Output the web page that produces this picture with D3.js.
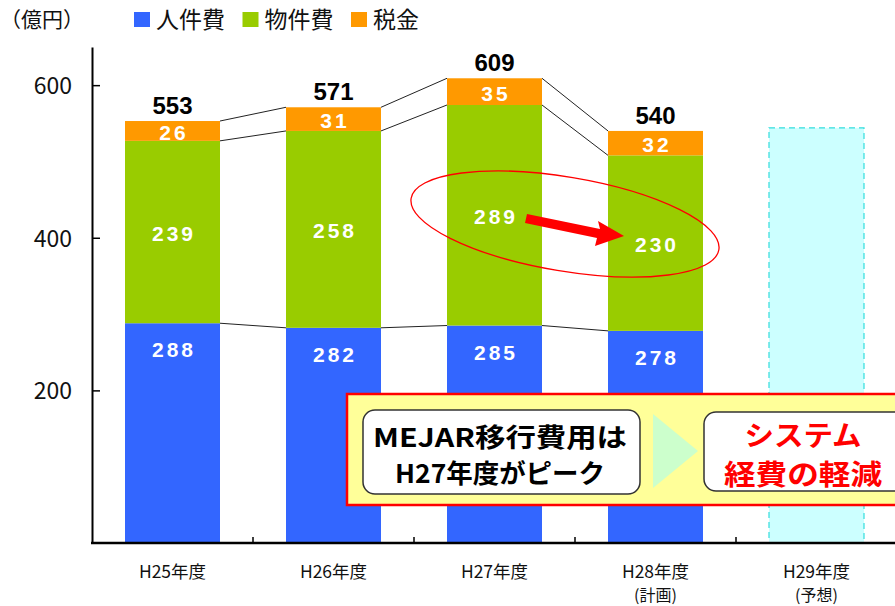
<!DOCTYPE html>
<html>
<head>
<meta charset="utf-8">
<script src="https://cdn.jsdelivr.net/npm/d3@7"></script>
<style>
  body { margin: 0; background: #fff; }
  text { font-family: "Noto Sans CJK JP", sans-serif; }
  .num { font-family: "Liberation Sans", Arial, sans-serif; }
</style>
</head>
<body>
<div id="chart"></div>
<script>
// data (億円)
var years = ["H25年度", "H26年度", "H27年度", "H28年度", "H29年度"];
var subLabels = ["", "", "", "(計画)", "(予想)"];
var seriesNames = ["人件費", "物件費", "税金"];
var personnel = [288, 282, 285, 278];
var material = [239, 258, 289, 230];
var tax = [26, 31, 35, 32];
var totals = [553, 571, 609, 540];
var forecast = [544];   // H29, outline only
var yTicks = [200, 400, 600];

var colors = ["#3366ff", "#99cc00", "#ff9900"];

var W = 895, H = 606;
var svg = d3.select("#chart").append("svg").attr("width", W).attr("height", H);

var rows = personnel.map(function(d, i) {
  return {year: years[i], p: d, m: material[i], t: tax[i]};
});
var stack = d3.stack().keys(["p", "m", "t"])(rows);

var x = d3.scaleBand().domain(years).range([92, 897]).paddingInner(0.41).paddingOuter(0.205);
var y = d3.scaleLinear().domain([0, 650]).range([543, 47]);

// forecast bar (H29)
svg.selectAll(".fc").data(forecast).enter().append("rect")
  .attr("x", x("H29年度")).attr("width", x.bandwidth())
  .attr("y", d => y(d)).attr("height", d => y(0) - y(d))
  .attr("fill", "#ccffff").attr("stroke", "#33dddd")
  .attr("stroke-width", 1.2).attr("stroke-dasharray", "6,4");

// stacked bars
var layer = svg.selectAll(".layer").data(stack).enter().append("g")
  .attr("fill", (d, i) => colors[i]);
layer.selectAll("rect").data(d => d).enter().append("rect")
  .attr("x", d => x(d.data.year)).attr("width", x.bandwidth())
  .attr("y", d => y(d[1])).attr("height", d => y(d[0]) - y(d[1]));

// connector lines between bars
stack.forEach(function(s) {
  for (var i = 0; i < s.length - 1; i++) {
    svg.append("line")
      .attr("x1", x(years[i]) + x.bandwidth()).attr("y1", y(s[i][1]))
      .attr("x2", x(years[i + 1])).attr("y2", y(s[i + 1][1]))
      .attr("stroke", "#222").attr("stroke-width", 1);
  }
});

// value labels
stack.forEach(function(s, k) {
  svg.selectAll(".v" + k).data(s).enter().append("text")
    .attr("class", "num")
    .attr("x", d => x(d.data.year) + x.bandwidth() / 2 + 1.5)
    .attr("y", function(d) {
      if (k == 0) return y(d[1]) + 26 + 8;
      return (y(d[0]) + y(d[1])) / 2 + 9;
    })
    .attr("text-anchor", "middle")
    .attr("fill", "#fff").attr("font-weight", "bold")
    .attr("font-size", 21).attr("letter-spacing", 3)
    .text(d => d[1] - d[0]);
});

// totals
svg.selectAll(".tot").data(totals).enter().append("text")
  .attr("class", "num")
  .attr("x", (d, i) => x(years[i]) + x.bandwidth() / 2)
  .attr("y", d => y(d) - 7)
  .attr("text-anchor", "middle").attr("font-weight", "bold").attr("font-size", 24)
  .text(d => d);

// y axis
var yAxis = svg.append("g").attr("transform", "translate(92,0)")
  .call(d3.axisLeft(y).tickValues(yTicks).tickSizeInner(-8).tickSizeOuter(0).tickPadding(20));
yAxis.select(".domain").attr("stroke", "#000").attr("stroke-width", 2);
yAxis.selectAll(".tick line").attr("stroke", "#000").attr("stroke-width", 1.5);
yAxis.selectAll(".tick text").attr("font-family", "Liberation Sans, Arial, sans-serif")
  .attr("font-size", 23).attr("fill", "#111").attr("dy", "0.36em");

// x axis
svg.append("line").attr("x1", 91).attr("x2", W).attr("y1", y(0)).attr("y2", y(0))
  .attr("stroke", "#000").attr("stroke-width", 2.5);
svg.selectAll(".xt").data(years.slice(0, 4)).enter().append("line")
  .attr("x1", d => x(d) + x.bandwidth() + (x.step() - x.bandwidth()) / 2)
  .attr("x2", d => x(d) + x.bandwidth() + (x.step() - x.bandwidth()) / 2)
  .attr("y1", y(0) - 6).attr("y2", y(0))
  .attr("stroke", "#000").attr("stroke-width", 1.5);
svg.selectAll(".xl").data(years).enter().append("text")
  .attr("x", d => x(d) + x.bandwidth() / 2).attr("y", 577.5)
  .attr("text-anchor", "middle").attr("font-size", 17.5).attr("fill", "#111")
  .text(d => d);
svg.selectAll(".xs").data(subLabels).enter().append("text")
  .attr("x", (d, i) => x(years[i]) + x.bandwidth() / 2).attr("y", 601)
  .attr("text-anchor", "middle").attr("font-size", 16).attr("fill", "#111")
  .text(d => d);

// ellipse + arrow around 物件費 drop
svg.append("ellipse")
  .attr("cx", 565).attr("cy", 224).attr("rx", 156).attr("ry", 47)
  .attr("transform", "rotate(9.5,565,224)")
  .attr("fill", "none").attr("stroke", "#ff0000").attr("stroke-width", 1.3);
svg.append("polygon")
  .attr("points", "527,214 600,229 598,221 624,236 595,246 597,238 525,223")
  .attr("fill", "#ff0000");

// legend
svg.append("text").attr("x", 0).attr("y", 27).attr("font-size", 21).attr("fill", "#111")
  .text("（億円）");
var leg = svg.selectAll(".leg").data(seriesNames).enter().append("g")
  .attr("transform", (d, i) => "translate(" + (134 + i * 108.5) + ",0)");
leg.append("rect").attr("y", 12).attr("width", 16).attr("height", 15)
  .attr("fill", (d, i) => colors[i]);
leg.append("text").attr("x", 22).attr("y", 28).attr("font-size", 23).attr("fill", "#111")
  .text(d => d);

// callout box
svg.append("rect").attr("x", 347).attr("y", 394).attr("width", 560).attr("height", 111)
  .attr("fill", "#ffff99").attr("stroke", "#ff0000").attr("stroke-width", 2.5);
svg.append("rect").attr("x", 363).attr("y", 410).attr("width", 277).attr("height", 84)
  .attr("rx", 12).attr("fill", "#fff").attr("stroke", "#333").attr("stroke-width", 1.5);
svg.append("polygon").attr("points", "653,414 698,451 653,488").attr("fill", "#ccffcc");
svg.append("rect").attr("x", 704).attr("y", 412).attr("width", 230).attr("height", 79)
  .attr("rx", 12).attr("fill", "#fff").attr("stroke", "#333").attr("stroke-width", 1.5);

var leftLines = [["MEJAR移行費用は", 447, 254], ["H27年度がピーク", 483, 210]];
leftLines.forEach(function(l) {
  svg.append("text").attr("x", 500).attr("y", l[1]).attr("text-anchor", "middle")
    .attr("font-size", 26).attr("font-weight", "bold").attr("fill", "#000")
    .attr("textLength", l[2]).attr("lengthAdjust", "spacingAndGlyphs")
    .text(l[0]);
});
var rightLines = [["システム", 446, 117], ["経費の軽減", 485, 158]];
rightLines.forEach(function(l) {
  svg.append("text").attr("x", 803).attr("y", l[1]).attr("text-anchor", "middle")
    .attr("font-size", 28).attr("font-weight", "bold").attr("fill", "#ff0000")
    .attr("textLength", l[2]).attr("lengthAdjust", "spacingAndGlyphs")
    .text(l[0]);
});
</script>
</body>
</html>
